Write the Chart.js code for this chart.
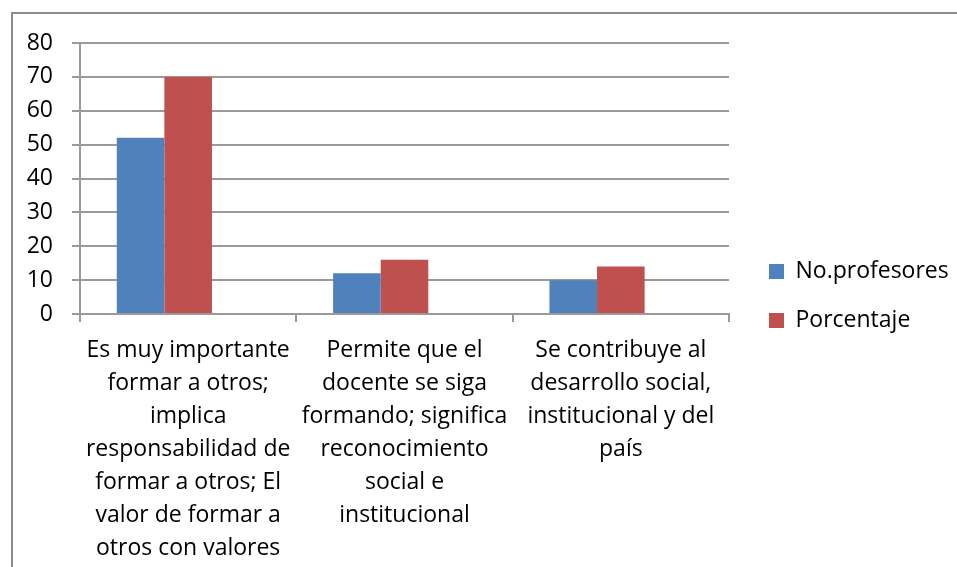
<!DOCTYPE html>
<html>
<head>
<meta charset="utf-8">
<script src="https://cdn.jsdelivr.net/npm/chart.js@4.4.1/dist/chart.umd.min.js"></script>
<style>
  html, body { margin: 0; padding: 0; background: #fff; overflow: hidden; }
  #wrap { position: relative; width: 957px; height: 567px; overflow: hidden; }
  #frame { position: absolute; left: 11px; top: 12px; width: 2000px; height: 2000px;
           border: 2px solid #8c8c8c; box-sizing: border-box; }
  #chart { position: absolute; left: 0; top: 0; }
</style>
</head>
<body>
<div id="wrap">
  <div id="frame"></div>
  <canvas id="chart" width="957" height="567"></canvas>
</div>
<script>
// categories, already broken into lines like the original
const categories = [
    ["Es muy importante", "formar a otros;", "implica", "responsabilidad de", "formar a otros; El", "valor de formar a", "otros con valores"],
    ["Permite que el", "docente se siga", "formando; significa", "reconocimiento", "social e", "institucional"],
    ["Se contribuye al", "desarrollo social,", "institucional y del", "país"]
];
const seriesNames = ["No.profesores", "Porcentaje"];
const profesores = [52, 12, 10];
const porcentaje = [70, 16, 14];
const emptySeries = [null, null, null]; // third (empty) series keeps Excel's cluster spacing

const FONT = "'Open Sans', sans-serif";
const GRID = '#9a9a9a';

const ctx = document.getElementById('chart').getContext('2d');
new Chart(ctx, {
    type: 'bar',
    data: {
        labels: categories,
        datasets: [
            { label: seriesNames[0], data: profesores, backgroundColor: '#4f81bd' },
            { label: seriesNames[1], data: porcentaje, backgroundColor: '#c0504d' },
            { label: '', data: emptySeries, backgroundColor: 'rgba(0,0,0,0)' }
        ]
    },
    options: {
        responsive: false,
        animation: false,
        devicePixelRatio: 1,
        barPercentage: 1,
        categoryPercentage: 0.66,
        layout: { padding: { left: 27, top: 25, right: 0, bottom: 0 } },
        plugins: {
            tooltip: { enabled: false },
            // empty title only used as a top spacer above the plot (not over the legend)
            title: {
                display: true,
                text: ' ',
                fullSize: false,
                font: { size: 2, lineHeight: 1 },
                padding: { top: 0, bottom: 16 }
            },
            legend: {
                position: 'right',
                maxWidth: 214,
                labels: {
                    filter: item => item.datasetIndex < 2,
                    boxWidth: 15,
                    boxHeight: 15,
                    padding: 26,
                    color: '#000',
                    font: { family: FONT, size: 23 }
                }
            }
        },
        scales: {
            x: {
                grid: { drawOnChartArea: false, drawTicks: true, tickLength: 8, color: GRID, lineWidth: 2, offset: true },
                border: { color: GRID, width: 2 },
                ticks: {
                    color: '#000',
                    padding: 12,
                    maxRotation: 0,
                    autoSkip: false,
                    font: { family: FONT, size: 23, lineHeight: 33 / 23 }
                },
                afterFit: s => { s.height = 253; }
            },
            y: {
                min: 0,
                max: 80,
                grid: { color: GRID, lineWidth: 2, tickLength: 8 },
                border: { color: GRID, width: 2 },
                ticks: {
                    stepSize: 10,
                    color: '#000',
                    padding: 19,
                    font: { family: FONT, size: 23 }
                },
                afterFit: s => { s.width = 53; }
            },
            // spacer between plot and legend
            gap: {
                type: 'linear',
                position: 'right',
                display: true,
                grid: { display: false },
                border: { display: false },
                ticks: { display: false },
                afterFit: s => { s.width = 14; }
            }
        }
    }
});
</script>
</body>
</html>
